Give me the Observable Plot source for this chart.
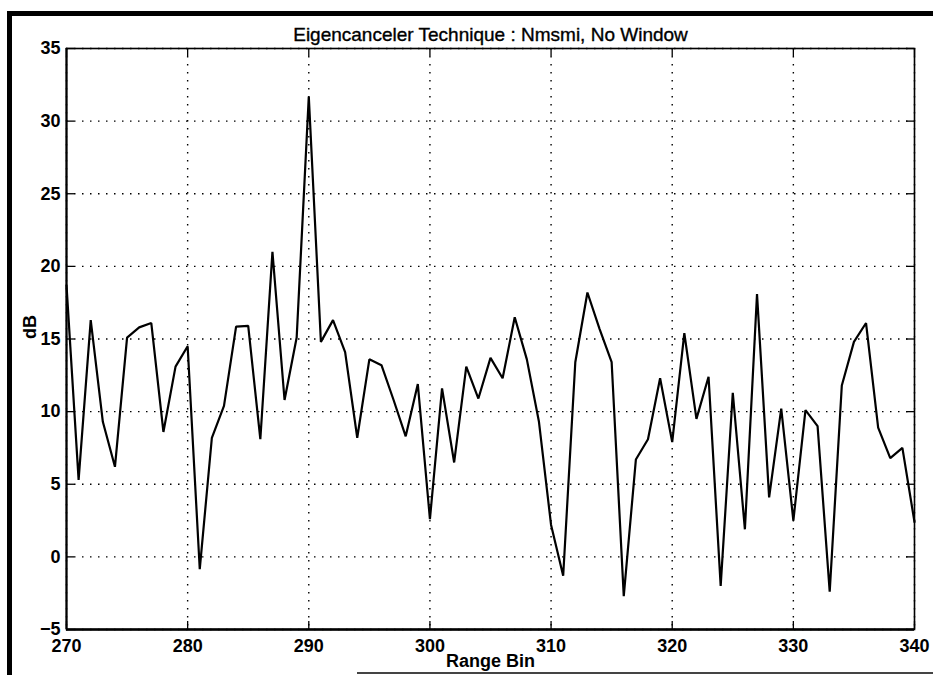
<!DOCTYPE html>
<html>
<head>
<meta charset="utf-8">
<script src="https://cdn.jsdelivr.net/npm/d3@7"></script>
<script src="https://cdn.jsdelivr.net/npm/@observablehq/plot@0.6"></script>
<style>
  html, body { margin: 0; padding: 0; background: #fff; }
  #chart { position: absolute; left: 0; top: 0; z-index: 1; }
  /* heavy page edge along the left and top of the sheet, thin one at the foot */
  .sheet-edge {
    position: absolute; left: 7px; top: 11px; width: 926px; height: 664px;
    box-sizing: border-box;
    border-left: 5px solid #000; border-top: 5px solid #000;
    pointer-events: none; z-index: 2;
  }
  .sheet-foot {
    position: absolute; left: 357px; top: 672px; width: 576px; height: 2px;
    background: #444; z-index: 2;
  }
  #chart svg text { font-weight: bold; }
  #chart svg .plot-title text { font-weight: normal; stroke: #000; stroke-width: 0.35px; }
</style>
</head>
<body>
<div class="sheet-edge"></div>
<div class="sheet-foot"></div>
<div id="chart"></div>
<script>
// Range bins along the horizontal axis
const rangeBin = [
  270, 271, 272, 273, 274, 275, 276, 277, 278, 279,
  280, 281, 282, 283, 284, 285, 286, 287, 288, 289,
  290, 291, 292, 293, 294, 295, 296, 297, 298, 299,
  300, 301, 302, 303, 304, 305, 306, 307, 308, 309,
  310, 311, 312, 313, 314, 315, 316, 317, 318, 319,
  320, 321, 322, 323, 324, 325, 326, 327, 328, 329,
  330, 331, 332, 333, 334, 335, 336, 337, 338, 339,
  340
];

// Eigencanceler output level per range bin (dB)
const dB = [
  18.7, 5.3, 16.3, 9.3, 6.2, 15.1, 15.8, 16.1, 8.6, 13.1,
  14.5, -0.85, 8.2, 10.4, 15.85, 15.9, 8.1, 21.0, 10.8, 15.1,
  31.7, 14.8, 16.3, 14.1, 8.2, 13.6, 13.2, 10.8, 8.3, 11.9,
  2.6, 11.6, 6.5, 13.1, 10.9, 13.7, 12.3, 16.5, 13.6, 9.3,
  2.2, -1.3, 13.4, 18.2, 15.7, 13.4, -2.7, 6.7, 8.1, 12.3,
  7.9, 15.4, 9.5, 12.4, -2.0, 11.3, 1.9, 18.1, 4.1, 10.2,
  2.5, 10.1, 9.0, -2.4, 11.8, 14.8, 16.1, 8.9, 6.8, 7.5,
  2.4
];

// Tick values
const xTicks = [270, 280, 290, 300, 310, 320, 330, 340];
const yTicks = [-5, 0, 5, 10, 15, 20, 25, 30, 35];

// Text
const titleText = "Eigencanceler Technique : Nmsmi, No Window";
const xLabel = "Range Bin";
const yLabel = "dB";

const W = 933, H = 675;
const mLeft = 66, mRight = 19, mTop = 48, mBottom = 46;
const frameW = W - mLeft - mRight;
const frameH = H - mTop - mBottom;
const tickLen = 8;

const data = rangeBin.map((b, i) => ({bin: b, level: dB[i]}));
const dotted = {stroke: "#000", strokeWidth: 1.4, strokeDasharray: "1.5 6.5"};
const tickStyle = {stroke: "#000", strokeWidth: 1.3};

const chart = Plot.plot({
  width: W,
  height: H,
  marginLeft: mLeft,
  marginRight: mRight,
  marginTop: mTop,
  marginBottom: mBottom,
  style: {
    fontFamily: "'Liberation Sans', Arial, Helvetica, sans-serif",
    fontSize: "18px",
    color: "#000",
    background: "#fff"
  },
  x: {domain: [270, 340], ticks: xTicks, tickFormat: d3.format("d"), tickSize: 0, tickPadding: 10, label: null},
  y: {domain: [-5, 35], ticks: yTicks, tickFormat: d3.format("d"), tickSize: 0, tickPadding: 6, label: null},
  marks: [
    // dotted grid
    Plot.ruleX(xTicks, {x: d => d, ...dotted}),
    Plot.ruleY(yTicks, {y: d => d, ...dotted}),
    // inward ticks on all four sides
    Plot.ruleX(xTicks, {x: d => d, insetTop: frameH - tickLen, ...tickStyle}),
    Plot.ruleX(xTicks, {x: d => d, insetBottom: frameH - tickLen, ...tickStyle}),
    Plot.ruleY(yTicks, {y: d => d, insetRight: frameW - tickLen, ...tickStyle}),
    Plot.ruleY(yTicks, {y: d => d, insetLeft: frameW - tickLen, ...tickStyle}),
    // axes box
    Plot.frame({stroke: "#000", strokeWidth: 1.6}),
    Plot.ruleY([-5], {y: d => d, stroke: "#000", strokeWidth: 2.6}),
    Plot.ruleX([270], {x: d => d, stroke: "#000", strokeWidth: 2}),
    // response curve
    Plot.line(data, {x: "bin", y: "level", stroke: "#000", strokeWidth: 2.2, strokeLinejoin: "miter"}),
    // title and axis labels
    Plot.text([titleText], {text: d => d, frameAnchor: "top", dy: -21, fontSize: 19, className: "plot-title"}),
    Plot.text([xLabel], {text: d => d, frameAnchor: "bottom", dy: 37, fontSize: 18}),
    Plot.text([yLabel], {text: d => d, frameAnchor: "left", dx: -36, rotate: -90, fontSize: 18})
  ]
});

document.getElementById("chart").appendChild(chart);
</script>
</body>
</html>
